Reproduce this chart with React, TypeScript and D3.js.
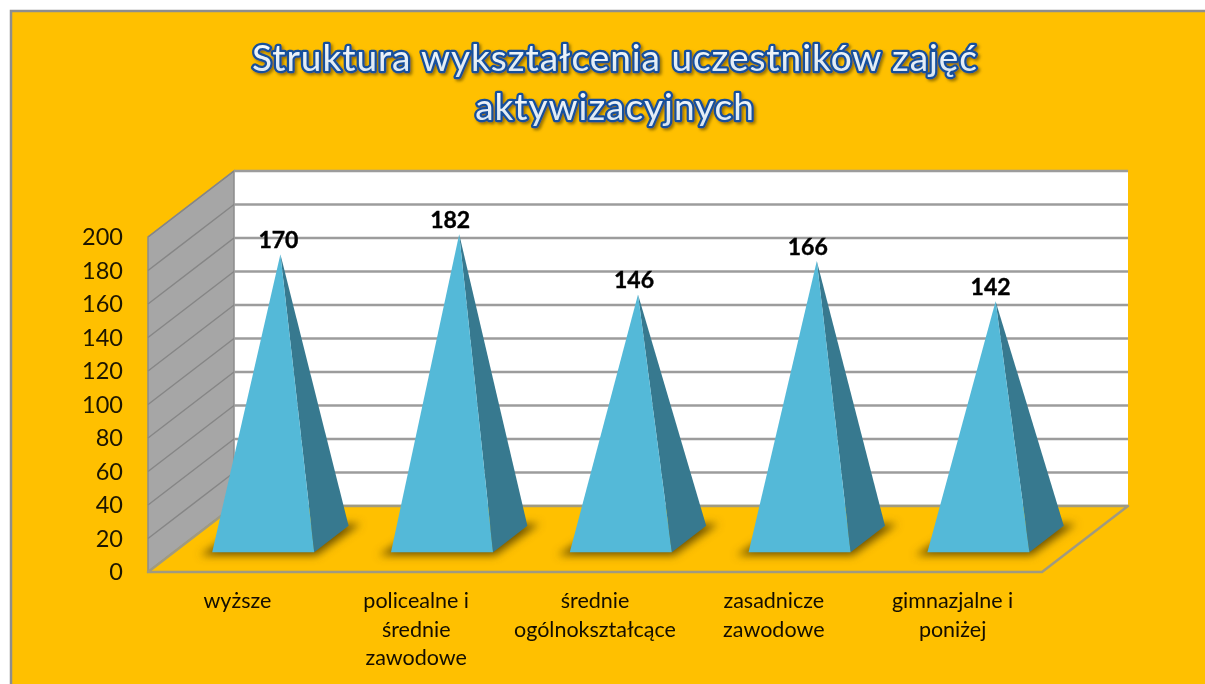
import React, { useEffect, useRef } from "react";
import * as d3 from "d3";

const titleLines = ["Struktura wykształcenia uczestników zajęć", "aktywizacyjnych"];
const categories = ["wyższe", "policealne i|średnie|zawodowe", "średnie|ogólnokształcące", "zasadnicze|zawodowe", "gimnazjalne i|poniżej"];
const values = [170, 182, 146, 166, 142];
const axisTicks = [0, 20, 40, 60, 80, 100, 120, 140, 160, 180, 200];

// manual label shifts from the apex, the original chart has them dragged by hand
const labelShiftX = [-2, -9, -4, -9, -5];

const WIDTH = 1205;
const HEIGHT = 684;
// 3d box: front left corner, and how far the back wall is shifted
const FRONT_LEFT = 148;
const FRONT_RIGHT = 1042;
const FRONT_ZERO = 572;
const FRONT_TOP = 237;
const DEPTH_X = 86;
const DEPTH_Y = 66;
const HALF_BASE = 51;
const DEPTH_NEAR = 0.3;
const DEPTH_FAR = 0.7;

const App = () => {
  const ref = useRef<SVGSVGElement>(null);

  useEffect(() => {
    const svg = d3.select(ref.current);
    svg.selectAll("*").remove();

    const x = d3.scaleBand().domain(categories).range([FRONT_LEFT, FRONT_RIGHT]);
    const y = d3.scaleLinear().domain([0, 200]).range([FRONT_ZERO, FRONT_TOP]);
    // project: screen position of (x px on front, value, depth 0..1)
    const px = (xv: number, depth: number) => xv + depth * DEPTH_X;
    const py = (v: number, depth: number) => y(v) - depth * DEPTH_Y;
    const poly = (pts: number[][]) => pts.map((p) => p.join(",")).join(" ");

    const defs = svg.append("defs");
    defs.append("filter").attr("id", "shadow").attr("x", "-30%").attr("y", "-60%").attr("width", "160%").attr("height", "220%")
      .append("feGaussianBlur").attr("stdDeviation", 4.5);
    defs.append("filter").attr("id", "soft").append("feGaussianBlur").attr("stdDeviation", 0.45);
    const titleShadow = defs.append("filter").attr("id", "titleShadow").attr("x", "-5%").attr("y", "-30%").attr("width", "110%").attr("height", "160%");
    titleShadow.append("feGaussianBlur").attr("stdDeviation", 0.5).attr("result", "txt");
    titleShadow.append("feDropShadow").attr("in", "txt").attr("dx", 2).attr("dy", 2).attr("stdDeviation", 1.5).attr("flood-color", "#6b5200").attr("flood-opacity", 0.7);
    const titleFill = defs.append("linearGradient").attr("id", "titleFill").attr("x1", 0).attr("x2", 0).attr("y1", 0).attr("y2", 1);
    titleFill.append("stop").attr("offset", "0%").attr("stop-color", "#ffffff");
    titleFill.append("stop").attr("offset", "100%").attr("stop-color", "#d5e3f0");
    defs.append("clipPath").attr("id", "floorClip").append("polygon")
      .attr("points", poly([[FRONT_LEFT, FRONT_ZERO], [FRONT_RIGHT, FRONT_ZERO], [px(FRONT_RIGHT, 1), py(0, 1)], [px(FRONT_LEFT, 1), py(0, 1)]]));

    // page background and frame
    svg.append("rect").attr("width", WIDTH).attr("height", HEIGHT).attr("fill", "#ffffff");
    svg.append("rect").attr("x", 11).attr("y", 11).attr("width", WIDTH).attr("height", HEIGHT)
      .attr("fill", "#ffc000").attr("stroke", "#8e8e8e").attr("stroke-width", 2.5);

    // back wall
    svg.append("rect").attr("x", px(FRONT_LEFT, 1)).attr("y", py(200, 1))
      .attr("width", FRONT_RIGHT - FRONT_LEFT).attr("height", y(0) - y(200)).attr("fill", "#ffffff");
    // side wall
    svg.append("polygon")
      .attr("points", poly([[FRONT_LEFT, y(200)], [px(FRONT_LEFT, 1), py(200, 1)], [px(FRONT_LEFT, 1), py(0, 1)], [FRONT_LEFT, y(0)]]))
      .attr("fill", "#a6a6a6").attr("stroke", "#8c8c8c").attr("stroke-width", 1.5);

    // gridlines run along the side wall then the back wall
    svg.append("g").selectAll("line.side").data(axisTicks).join("line")
      .attr("x1", FRONT_LEFT).attr("y1", (d) => y(d))
      .attr("x2", px(FRONT_LEFT, 1)).attr("y2", (d) => py(d, 1))
      .attr("stroke", "#868686").attr("stroke-width", 1.5);
    svg.append("g").selectAll("line.back").data(axisTicks).join("line")
      .attr("x1", px(FRONT_LEFT, 1)).attr("y1", (d) => py(d, 1))
      .attr("x2", px(FRONT_RIGHT, 1)).attr("y2", (d) => py(d, 1))
      .attr("stroke", "#9c9c9c").attr("stroke-width", 2.4);

    // floor
    svg.append("polygon")
      .attr("points", poly([[FRONT_LEFT, FRONT_ZERO], [FRONT_RIGHT, FRONT_ZERO], [px(FRONT_RIGHT, 1), py(0, 1)], [px(FRONT_LEFT, 1), py(0, 1)]]))
      .attr("fill", "#ffc000").attr("stroke", "#a09a80").attr("stroke-width", 2.5).attr("stroke-linejoin", "round");

    const bw = x.bandwidth();
    const rows = categories.map((c, i) => ({ c, v: values[i], cx: x(c)! + bw / 2, shift: labelShiftX[i] }));

    // pyramid shadows on the floor
    svg.append("g").attr("clip-path", "url(#floorClip)").selectAll("polygon").data(rows).join("polygon")
      .attr("points", (d) => {
        const l = d.cx - HALF_BASE;
        const r = d.cx + HALF_BASE;
        return poly([
          [px(l, DEPTH_NEAR) - 12, py(0, DEPTH_NEAR) + 3],
          [px(r, DEPTH_NEAR) + 2, py(0, DEPTH_NEAR) + 3],
          [px(r, DEPTH_FAR) + 12, py(0, DEPTH_FAR) - 2],
          [px(l, DEPTH_FAR), py(0, DEPTH_FAR)],
        ]);
      })
      .attr("fill", "#6e5200").attr("filter", "url(#shadow)");

    const pyramids = svg.append("g").selectAll("g").data(rows).join("g");
    pyramids.append("polygon")
      .attr("points", (d) => poly([
        [px(d.cx + HALF_BASE, DEPTH_NEAR), py(0, DEPTH_NEAR)],
        [px(d.cx + HALF_BASE, DEPTH_FAR), py(0, DEPTH_FAR)],
        [px(d.cx, 0.5), py(d.v, 0.5)],
      ]))
      .attr("fill", "#37798f");
    pyramids.append("polygon")
      .attr("points", (d) => poly([
        [px(d.cx - HALF_BASE, DEPTH_NEAR), py(0, DEPTH_NEAR)],
        [px(d.cx + HALF_BASE, DEPTH_NEAR), py(0, DEPTH_NEAR)],
        [px(d.cx, 0.5), py(d.v, 0.5)],
      ]))
      .attr("fill", "#54b9d8");

    // value labels
    const text = svg.append("g").attr("font-family", "Lato, 'Open Sans', sans-serif").attr("filter", "url(#soft)");
    text.selectAll("text.value").data(rows).join("text")
      .attr("x", (d) => px(d.cx, 0.5) + d.shift)
      .attr("y", (d) => py(d.v, 0.5) - 6)
      .attr("text-anchor", "middle").attr("font-size", 23).attr("font-weight", 700).attr("fill", "#000000")
      .attr("stroke", "#000000").attr("stroke-width", 0.4)
      .text((d) => d.v);

    // value axis
    const axis = text.append("g").attr("transform", `translate(${FRONT_LEFT - 25},0)`)
      .call(d3.axisLeft(y).tickValues(axisTicks).tickSize(0).tickPadding(0));
    axis.select(".domain").remove();
    axis.selectAll("text").attr("font-size", 23.5).attr("font-family", "Lato, sans-serif").attr("fill", "#1c1400");

    // category labels, wrapped as in the original
    const catLabels = text.selectAll("text.cat").data(rows).join("text")
      .attr("text-anchor", "middle").attr("font-size", 21.5).attr("fill", "#120d00");
    catLabels.selectAll("tspan").data((d) => d.c.split("|").map((t, i) => ({ t, i, cx: d.cx }))).join("tspan")
      .attr("x", (d) => d.cx).attr("y", (d) => 608 + d.i * 28.5).text((d) => d.t);

    // title
    svg.append("g").attr("filter", "url(#titleShadow)").selectAll("text").data(titleLines).join("text")
      .attr("x", 615).attr("y", (_, i) => 71 + i * 49)
      .attr("text-anchor", "middle").attr("font-family", "Lato, sans-serif")
      .attr("font-size", 37).attr("font-weight", 400).attr("letter-spacing", 0.95)
      .attr("fill", "url(#titleFill)").attr("stroke", "#15509c").attr("stroke-width", 4.6)
      .attr("stroke-linejoin", "round").attr("paint-order", "stroke")
      .text((d) => d);
  }, []);

  return <svg ref={ref} width={WIDTH} height={HEIGHT} style={{ position: "absolute", left: 0, top: 0, display: "block" }} />;
};

export default App;
